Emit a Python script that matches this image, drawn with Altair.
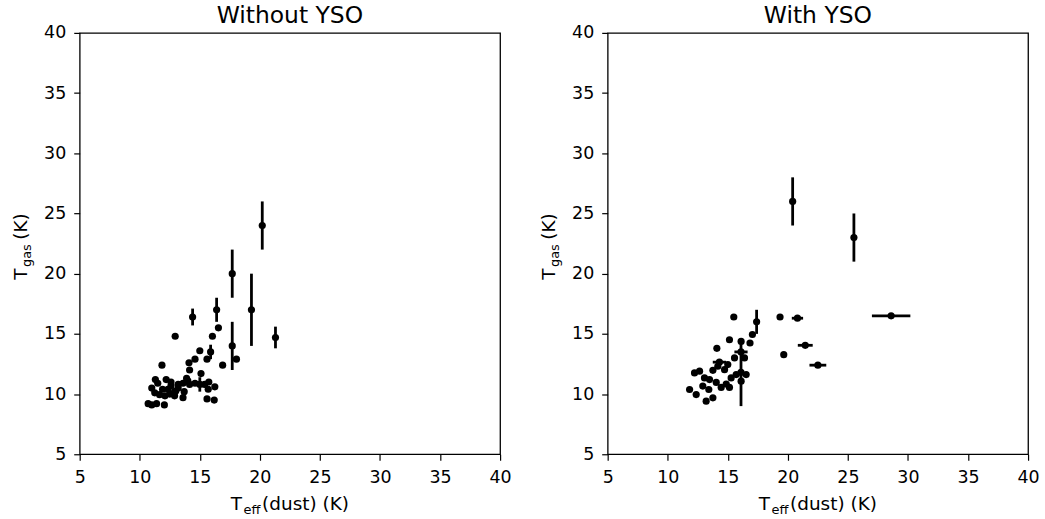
import altair as alt
import pandas as pd

# ---------------- data ----------------
left_x = [20.2, 17.7, 19.3, 16.4, 14.4, 21.3, 17.7, 15.9, 15.0,
          16.55, 16.05, 12.95, 18.05, 16.9, 15.0, 14.6, 14.1, 14.15, 15.6,
          11.85, 15.1, 15.6, 16.2, 16.25, 15.75, 10.7, 11.0, 11.4, 12.05,
          11.3, 12.2, 11.0, 12.35, 12.6, 12.9, 13.2, 13.6, 13.7, 14.0,
          14.6, 13.6, 12.5, 12.1, 12.9, 11.5, 12.6, 13.2, 13.9, 15.4,
          11.9, 11.25, 11.65, 15.7, 14.15, 13.0]
left_y = [24.0, 20.0, 17.0, 17.0, 16.4, 14.7, 14.0, 13.5, 10.8,
          15.5, 14.8, 14.8, 12.9, 12.4, 13.6, 12.9, 12.6, 12.0, 12.9,
          12.4, 11.7, 9.6, 9.5, 10.6, 11.0, 9.2, 9.1, 9.2, 9.1,
          11.2, 11.2, 10.5, 10.4, 10.7, 10.2, 10.5, 10.9, 10.2, 11.1,
          10.9, 9.7, 10.0, 9.85, 9.85, 10.9, 11.0, 10.8, 11.3, 10.8,
          10.4, 10.1, 9.95, 10.4, 10.8, 10.25]
left_yerr = [2.0, 2.0, 3.0, 1.0, 0.7, 0.9, 2.0, 0.6, 0.6] + [0.0] * 46
left_xerr = [0.0] * 55

right_x = [20.4, 25.5, 28.6, 20.8, 21.45, 22.5, 17.4, 16.1, 16.1, 14.3,
           15.5, 19.35, 19.66, 17.05, 16.85, 15.14, 16.11, 14.09, 15.56, 16.39,
           15.0, 13.76, 12.23, 12.65, 13.06, 13.48, 14.04, 14.45, 14.87, 15.28,
           15.7, 16.53, 16.11, 15.14, 11.82, 12.37, 12.92, 13.42, 13.2, 13.76,
           14.73, 14.17]
right_y = [26.0, 23.0, 16.5, 16.3, 14.05, 12.4, 16.0, 11.8, 13.5, 12.65,
           16.4, 16.4, 13.27, 14.95, 14.24, 14.51, 14.37, 13.8, 13.0, 13.0,
           12.45, 11.97, 11.76, 11.9, 11.34, 11.2, 10.97, 10.55, 10.83, 11.34,
           11.62, 11.62, 11.07, 10.55, 10.38, 9.96, 10.66, 10.38, 9.41, 9.69,
           12.03, 12.31]
right_xerr = [0.0, 0.0, 1.6, 0.47, 0.62, 0.7, 0.0, 0.0, 0.55, 0.55] + [0.0] * 32
right_yerr = [2.0, 2.0, 0.0, 0.0, 0.0, 0.0, 1.0, 2.8, 0.0, 0.0] + [0.0] * 32

titles = ["Without YSO", "With YSO"]
tick_values = [5, 10, 15, 20, 25, 30, 35, 40]

# ---------------- styling / layout constants ----------------
FONT = "DejaVu Sans"
W, H = 422, 423
TICK_FS = 17.5
LAB_FS = 18.5
SUB_FS = 13
TITLE_FS = 23.5

ADV = {"T": .611, "e": .615, "f": .352, "(": .390, ")": .390, "d": .635,
       "u": .634, "s": .521, "t": .392, " ": .318, "K": .656, "g": .635,
       "a": .613}


def tw(s, fs):
    return sum(ADV[c] for c in s) * fs


def make_df(xs, ys, xe, ye):
    df = pd.DataFrame({"x": xs, "y": ys, "xerr": xe, "yerr": ye})
    df["xlo"] = df.x - df.xerr
    df["xhi"] = df.x + df.xerr
    df["ylo"] = df.y - df.yerr
    df["yhi"] = df.y + df.yerr
    return df


def text_piece(txt, fs, x, y, angle=0):
    kw = dict(font=FONT, fontSize=fs, color="black", align="left",
              baseline="alphabetic")
    if angle:
        kw["angle"] = angle
    return alt.Chart(pd.DataFrame({"t": [txt]})).mark_text(**kw).encode(
        text="t:N", x=alt.value(x), y=alt.value(y))


def panel(df, title):
    xsc = alt.Scale(domain=[5, 40], nice=False, zero=False)
    ysc = alt.Scale(domain=[5, 40], nice=False, zero=False)
    xax = alt.Axis(values=tick_values, title=None, format="d")
    yax = alt.Axis(values=tick_values, title=None, format="d")
    pts = alt.Chart(df).mark_circle(size=52, color="black", opacity=1).encode(
        x=alt.X("x:Q", scale=xsc, axis=xax),
        y=alt.Y("y:Q", scale=ysc, axis=yax))
    ye = alt.Chart(df[df.yerr > 0]).mark_rule(color="black", strokeWidth=2.8).encode(
        x="x:Q", y="ylo:Q", y2="yhi:Q")
    xe = alt.Chart(df[df.xerr > 0]).mark_rule(color="black", strokeWidth=2.8).encode(
        x="xlo:Q", x2="xhi:Q", y="y:Q")

    layers = [ye, xe, pts]
    # x-axis title  T_eff(dust) (K)
    a, b, c = "T", "eff", "(dust) (K)"
    gap = 1.5
    tot = tw(a, LAB_FS) + tw(b, SUB_FS) + tw(c, LAB_FS) + 2 * gap
    x0 = W / 2 - tot / 2
    yb = 479
    layers.append(text_piece(a, LAB_FS, x0, yb))
    layers.append(text_piece(b, SUB_FS, x0 + tw(a, LAB_FS) + gap, yb + 4))
    layers.append(text_piece(c, LAB_FS, x0 + tw(a, LAB_FS) + tw(b, SUB_FS) + 2 * gap, yb))
    # y-axis title  T_gas (K)
    a, b, c = "T", "gas", " (K)"
    tot = tw(a, LAB_FS) + tw(b, SUB_FS) + tw(c, LAB_FS) + 2 * gap + 3
    y0 = H / 2 + tot / 2
    xb = -53
    layers.append(text_piece(a, LAB_FS, xb, y0, 270))
    layers.append(text_piece(b, SUB_FS, xb + 4, y0 - tw(a, LAB_FS) - gap, 270))
    layers.append(text_piece(c, LAB_FS, xb,
                             y0 - tw(a, LAB_FS) - tw(b, SUB_FS) - 2 * gap - 3, 270))

    return alt.layer(*layers).properties(
        width=W, height=H,
        title=alt.TitleParams(title, font=FONT, fontSize=TITLE_FS, fontWeight="normal",
                              color="black", frame="group", anchor="middle",
                              baseline="alphabetic", offset=-23))


left = panel(make_df(left_x, left_y, left_xerr, left_yerr), titles[0])
right = panel(make_df(right_x, right_y, right_xerr, right_yerr), titles[1])

chart = alt.hconcat(left, right, spacing=108, bounds="flush").properties(
    padding={"left": 11, "top": 2, "right": 5, "bottom": 5},
    autosize=alt.AutoSizeParams(type="pad"),
    background="white",
).configure_view(stroke="black", strokeWidth=1.3).configure_axis(
    domain=False, grid=False, ticks=True, tickColor="black", tickWidth=1.2,
    tickSize=6, labelFont=FONT, labelFontSize=TICK_FS, labelColor="black",
    labelFlush=False, labelOverlap=False, labelPadding=8,
).configure_axisY(labelPadding=8)

chart.save("out.html", embed_options={"renderer": "svg", "actions": False})
